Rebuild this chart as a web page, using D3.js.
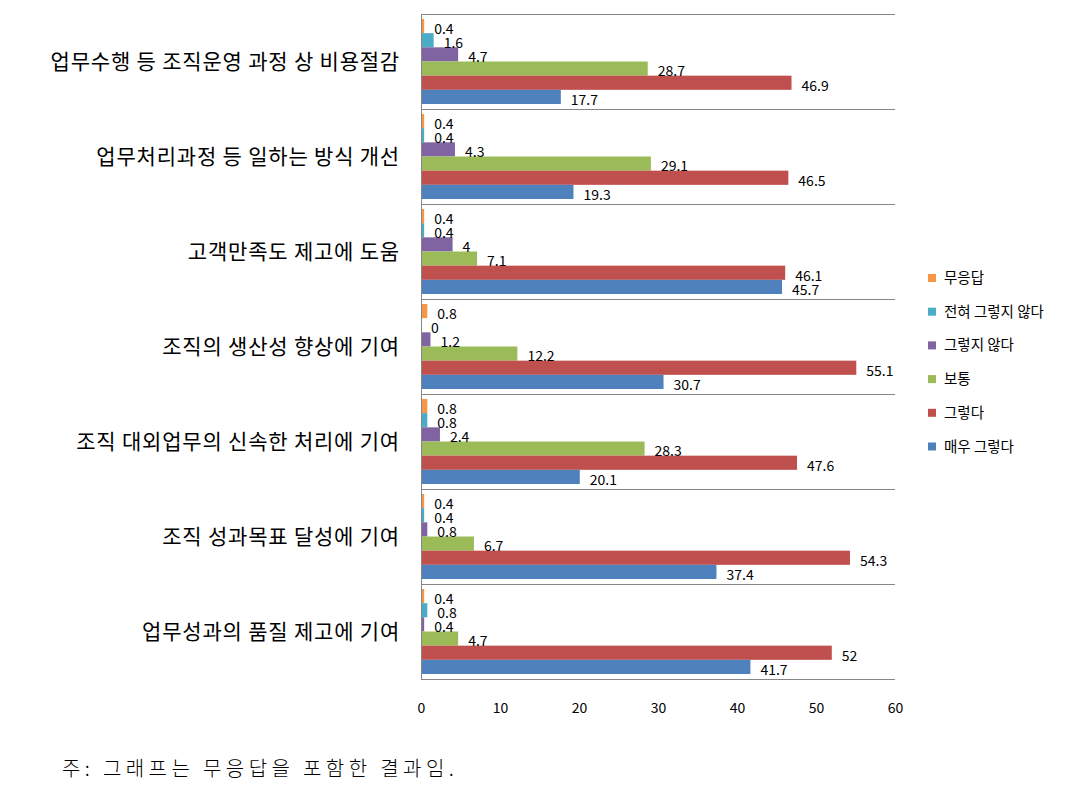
<!DOCTYPE html>
<html>
<head>
<meta charset="utf-8">
<script src="https://cdn.jsdelivr.net/npm/d3@7"></script>
<style>
    body { margin: 0; background: #fff; }
    text { font-family: "Noto Sans CJK KR", "Noto Sans", sans-serif; fill: #000; }
</style>
</head>
<body>
<div id="chart"></div>
<script>
//  Data
var categories      =   [
    "업무수행 등 조직운영 과정 상 비용절감",
    "업무처리과정 등 일하는 방식 개선",
    "고객만족도 제고에 도움",
    "조직의 생산성 향상에 기여",
    "조직 대외업무의 신속한 처리에 기여",
    "조직 성과목표 달성에 기여",
    "업무성과의 품질 제고에 기여"
];
var series_names    =   [ "무응답", "전혀 그렇지 않다", "그렇지 않다", "보통", "그렇다", "매우 그렇다" ];
var no_answer       =   [ 0.4, 0.4, 0.4, 0.8, 0.8, 0.4, 0.4 ];
var strongly_no     =   [ 1.6, 0.4, 0.4, 0, 0.8, 0.4, 0.8 ];
var disagree        =   [ 4.7, 4.3, 4, 1.2, 2.4, 0.8, 0.4 ];
var neutral         =   [ 28.7, 29.1, 7.1, 12.2, 28.3, 6.7, 4.7 ];
var agree           =   [ 46.9, 46.5, 46.1, 55.1, 47.6, 54.3, 52 ];
var strongly_yes    =   [ 17.7, 19.3, 45.7, 30.7, 20.1, 37.4, 41.7 ];
var x_ticks         =   [ 0, 10, 20, 30, 40, 50, 60 ];
var footnote        =   "주: 그래프는 무응답을 포함한 결과임.";

var series_values   =   [ no_answer, strongly_no, disagree, neutral, agree, strongly_yes ];
var colors          =   [ "#f79646", "#4bacc6", "#8064a2", "#9bbb59", "#c0504d", "#4f81bd" ];

//  Size
var chart_width     =   1079;
var chart_height    =   798;

var svg             =   d3.select("#chart")
    .append("svg")
    .attr("width", chart_width)
    .attr("height", chart_height);

// Scales
var x               =   d3.scaleLinear()
    .domain([ 0, 60 ])
    .range([ 421, 895 ]);

var y               =   d3.scaleBand()
    .domain( categories )
    .range([ 14, 679 ]);

var y_inner         =   d3.scaleBand()
    .domain( d3.range( series_names.length ) )
    .range([ 5, y.bandwidth() - 5 ]);

// Separator lines
svg.append("g")
    .selectAll("line")
    .data( categories.concat([ null ]) )
    .enter()
    .append("line")
    .attr("x1", x(0))
    .attr("x2", x(60))
    .attr("y1", function(d, i){ return Math.round( y.range()[0] + i * y.step() ) + 0.5; })
    .attr("y2", function(d, i){ return Math.round( y.range()[0] + i * y.step() ) + 0.5; })
    .attr("stroke", "#868686")
    .attr("stroke-width", 1);

// Bars
var groups          =   svg.append("g")
    .selectAll("g")
    .data( categories )
    .enter()
    .append("g")
    .attr("transform", function(d){ return "translate(0," + y(d) + ")"; });

groups.selectAll("rect")
    .data(function(d, ci){
        return series_values.map(function(vals, si){ return { s: si, v: vals[ci] }; });
    })
    .enter()
    .append("rect")
    .attr("x", x(0))
    .attr("y", function(d){ return y_inner(d.s); })
    .attr("width", function(d){ return x(d.v) - x(0); })
    .attr("height", y_inner.bandwidth())
    .attr("fill", function(d){ return colors[d.s]; });

groups.selectAll("text")
    .data(function(d, ci){
        return series_values.map(function(vals, si){ return { s: si, v: vals[ci] }; });
    })
    .enter()
    .append("text")
    .attr("x", function(d){ return x(d.v) + 10; })
    .attr("y", function(d){ return y_inner(d.s) + y_inner.bandwidth() / 2 + 3; })
    .attr("dy", "0.35em")
    .attr("font-size", 14)
    .attr("fill", "#404040")
    .text(function(d){ return d.v; });

// Y axis line
svg.append("line")
    .attr("x1", x(0) + 0.5)
    .attr("x2", x(0) + 0.5)
    .attr("y1", y.range()[0])
    .attr("y2", y.range()[1])
    .attr("stroke", "#868686");

// Category labels
svg.append("g")
    .selectAll("text")
    .data( categories )
    .enter()
    .append("text")
    .attr("x", 400)
    .attr("y", function(d){ return y(d) + y.bandwidth() / 2; })
    .attr("dy", "0.35em")
    .attr("text-anchor", "end")
    .attr("font-size", 21)
    .attr("letter-spacing", 0.8)
    .attr("fill", "#222")
    .text(function(d){ return d; });

// X axis labels
var x_axis          =   svg.append("g")
    .attr("transform", "translate(0,700)")
    .call( d3.axisBottom(x).tickValues( x_ticks ).tickSize(0).tickPadding(3) );

x_axis.select(".domain").remove();
x_axis.selectAll("text")
    .attr("font-size", 14)
    .attr("font-family", "'Noto Sans CJK KR', sans-serif")
    .attr("fill", "#404040");

// Legend
var legend          =   svg.append("g")
    .selectAll("g")
    .data( series_names )
    .enter()
    .append("g")
    .attr("transform", function(d, i){ return "translate(928," + (278 + i * 33.7) + ")"; });

legend.append("rect")
    .attr("x", 0)
    .attr("y", -4)
    .attr("width", 8)
    .attr("height", 8)
    .attr("fill", function(d, i){ return colors[i]; });

legend.append("text")
    .attr("x", 16)
    .attr("y", 0)
    .attr("dy", "0.35em")
    .attr("font-size", 14.5)
    .attr("fill", "#404040")
    .text(function(d){ return d; });

// Footnote
svg.append("text")
    .attr("x", 62)
    .attr("y", 769)
    .attr("dy", "0.35em")
    .attr("font-size", 20)
    .attr("letter-spacing", 4.4)
    .attr("font-weight", 300)
    .attr("fill", "#222")
    .text( footnote );
</script>
</body>
</html>
